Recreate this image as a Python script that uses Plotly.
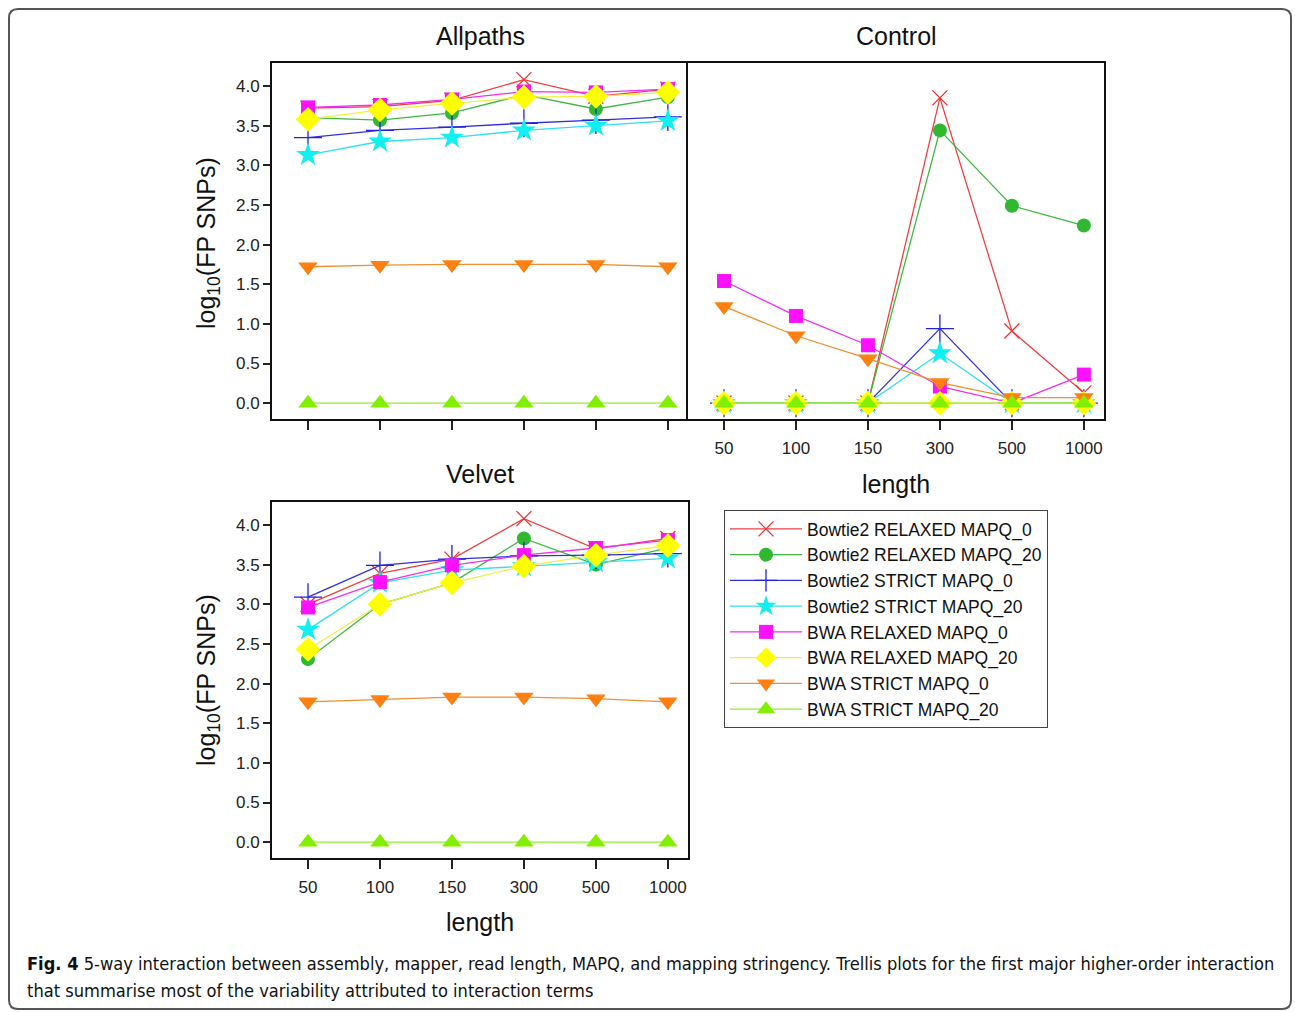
import plotly.graph_objects as go

# ---------------- data ----------------
lengths = ["50", "100", "150", "300", "500", "1000"]
series_names = [
    "Bowtie2 RELAXED MAPQ_0",
    "Bowtie2 RELAXED MAPQ_20",
    "Bowtie2 STRICT MAPQ_0",
    "Bowtie2 STRICT MAPQ_20",
    "BWA RELAXED MAPQ_0",
    "BWA RELAXED MAPQ_20",
    "BWA STRICT MAPQ_0",
    "BWA STRICT MAPQ_20",
]

allpaths_b2_relaxed_0 = [3.72, 3.74, 3.82, 4.08, 3.87, 3.96]
allpaths_b2_relaxed_20 = [3.60, 3.57, 3.66, 3.89, 3.71, 3.86]
allpaths_b2_strict_0 = [3.35, 3.44, 3.48, 3.53, 3.57, 3.61]
allpaths_b2_strict_20 = [3.13, 3.30, 3.35, 3.44, 3.50, 3.56]
allpaths_bwa_relaxed_0 = [3.73, 3.76, 3.83, 3.93, 3.92, 3.96]
allpaths_bwa_relaxed_20 = [3.58, 3.70, 3.78, 3.86, 3.87, 3.92]
allpaths_bwa_strict_0 = [1.72, 1.74, 1.75, 1.75, 1.75, 1.72]
allpaths_bwa_strict_20 = [0.0, 0.0, 0.0, 0.0, 0.0, 0.0]

control_b2_relaxed_0 = [0.0, 0.0, 0.0, 3.85, 0.91, 0.13]
control_b2_relaxed_20 = [0.0, 0.0, 0.0, 3.44, 2.49, 2.24]
control_b2_strict_0 = [0.0, 0.0, 0.0, 0.94, 0.0, 0.0]
control_b2_strict_20 = [0.0, 0.0, 0.0, 0.63, 0.0, 0.0]
control_bwa_relaxed_0 = [1.54, 1.10, 0.73, 0.21, 0.0, 0.36]
control_bwa_relaxed_20 = [0.0, 0.0, 0.0, 0.0, 0.0, 0.0]
control_bwa_strict_0 = [1.22, 0.85, 0.56, 0.26, 0.07, 0.07]
control_bwa_strict_20 = [0.0, 0.0, 0.0, 0.0, 0.0, 0.0]

velvet_b2_relaxed_0 = [3.00, 3.39, 3.57, 4.08, 3.70, 3.83]
velvet_b2_relaxed_20 = [2.31, 3.00, 3.27, 3.83, 3.50, 3.71]
velvet_b2_strict_0 = [3.09, 3.49, 3.57, 3.61, 3.62, 3.64]
velvet_b2_strict_20 = [2.68, 3.27, 3.43, 3.48, 3.53, 3.58]
velvet_bwa_relaxed_0 = [2.96, 3.28, 3.49, 3.62, 3.71, 3.81]
velvet_bwa_relaxed_20 = [2.43, 3.00, 3.27, 3.48, 3.62, 3.74]
velvet_bwa_strict_0 = [1.77, 1.80, 1.83, 1.83, 1.81, 1.77]
velvet_bwa_strict_20 = [0.0, 0.0, 0.0, 0.0, 0.0, 0.0]

y_ticks = [0.0, 0.5, 1.0, 1.5, 2.0, 2.5, 3.0, 3.5, 4.0]
y_tick_labels = ["0.0", "0.5", "1.0", "1.5", "2.0", "2.5", "3.0", "3.5", "4.0"]

panels = [
    ("Allpaths", [allpaths_b2_relaxed_0, allpaths_b2_relaxed_20, allpaths_b2_strict_0,
                  allpaths_b2_strict_20, allpaths_bwa_relaxed_0, allpaths_bwa_relaxed_20,
                  allpaths_bwa_strict_0, allpaths_bwa_strict_20]),
    ("Control", [control_b2_relaxed_0, control_b2_relaxed_20, control_b2_strict_0,
                 control_b2_strict_20, control_bwa_relaxed_0, control_bwa_relaxed_20,
                 control_bwa_strict_0, control_bwa_strict_20]),
    ("Velvet", [velvet_b2_relaxed_0, velvet_b2_relaxed_20, velvet_b2_strict_0,
                velvet_b2_strict_20, velvet_bwa_relaxed_0, velvet_bwa_relaxed_20,
                velvet_bwa_strict_0, velvet_bwa_strict_20]),
]

# ---------------- styles ----------------
colors = ["#f03030", "#30b830", "#2020e8", "#10f0f0", "#ff10ff", "#ffff00", "#ff8010", "#80f000"]
line_colors = ["#f04040", "#40b840", "#3030e0", "#30e0f0", "#f030f0", "#f0f040", "#f09030", "#90f030"]
symbols = ["x-thin", "circle", "cross-thin", "star", "square", "diamond", "triangle-down", "triangle-up"]
sizes = [15, 14, 20, 18, 14, 19, 17, 17]

W, H = 1295, 1012


def px(xp):
    return xp / W


def py(yp):
    return 1 - yp / H


FONT = "Liberation Sans, Arial, Helvetica, sans-serif"

fig = go.Figure()
axis_ids = ["", "2", "3"]
for pi, (pname, vals_list) in enumerate(panels):
    aid = axis_ids[pi]
    for si, vals in enumerate(vals_list):
        thin = symbols[si].endswith("thin")
        marker = dict(symbol=symbols[si], size=sizes[si], color=colors[si])
        if thin:
            marker["line"] = dict(color=colors[si], width=1.3)
        else:
            marker["line"] = dict(width=0)
        fig.add_trace(go.Scatter(
            x=lengths, y=vals, mode="lines+markers", name=series_names[si],
            xaxis="x" + aid, yaxis="y" + aid,
            line=dict(color=line_colors[si], width=1.3),
            marker=marker, showlegend=(pi == 0), legendgroup=series_names[si],
        ))

frame = dict(showline=True, linecolor="#111111", linewidth=2,
             showgrid=False, zeroline=False)
tickfont = dict(family=FONT, size=17, color="#222222")

xr = [-0.5, 5.28]
yr = [-0.2, 4.29]
top_dom = [py(419), py(63)]
bot_dom = [py(858), py(502)]

layout_axes = dict(
    xaxis=dict(domain=[px(272), px(688)], anchor="y", type="category", range=xr,
               ticks="outside", ticklen=9, tickwidth=2, tickcolor="#222",
               showticklabels=False, mirror=True, **frame),
    yaxis=dict(domain=top_dom, anchor="x", range=yr, tickvals=y_ticks, ticktext=y_tick_labels,
               ticks="outside", ticklen=7, tickwidth=2, tickcolor="#222", tickfont=tickfont,
               mirror=False, **frame),
    xaxis2=dict(domain=[px(688), px(1104)], anchor="y2", type="category", range=xr,
                ticks="outside", ticklen=9, tickwidth=2, tickcolor="#222", tickfont=tickfont,
                ticklabelstandoff=4, mirror=True, **frame),
    yaxis2=dict(domain=top_dom, anchor="x2", range=yr, tickvals=y_ticks,
                showticklabels=False, ticks="", mirror=True, **frame),
    xaxis3=dict(domain=[px(272), px(688)], anchor="y3", type="category", range=xr,
                ticks="outside", ticklen=9, tickwidth=2, tickcolor="#222", tickfont=tickfont,
                ticklabelstandoff=4, mirror=True, **frame),
    yaxis3=dict(domain=bot_dom, anchor="x3", range=yr, tickvals=y_ticks, ticktext=y_tick_labels,
                ticks="outside", ticklen=7, tickwidth=2, tickcolor="#222", tickfont=tickfont,
                mirror=True, **frame),
)

annotations = []


def add_text(text, x, y, size, angle=0, xanchor="center", yanchor="middle", family=FONT):
    annotations.append(dict(text=text, x=px(x), y=py(y), xref="paper", yref="paper",
                            showarrow=False, textangle=angle, xanchor=xanchor, yanchor=yanchor,
                            font=dict(family=family, size=size, color="#111111")))


add_text("Allpaths", 480, 36, 25)
add_text("Control", 896, 36, 25)
add_text("Velvet", 480, 474, 25)
add_text("length", 896, 484, 25)
add_text("length", 480, 922, 25)
add_text("log<sub>10</sub>(FP SNPs)", 208, 243, 25, angle=-90)
add_text("log<sub>10</sub>(FP SNPs)", 208, 680, 25, angle=-90)

CAP_FONT = "Liberation Sans Narrow, DejaVu Sans Condensed, Arial Narrow, sans-serif"
cap1 = ("<b>Fig. 4</b> 5-way interaction between assembly, mapper, read length, MAPQ, and mapping "
        "stringency. Trellis plots for the first major higher-order interaction")
cap2 = "that summarise most of the variability attributed to interaction terms"
add_text(cap1, 25, 963, 18.1, xanchor="left", family=CAP_FONT)
add_text(cap2, 25, 990, 18.1, xanchor="left", family=CAP_FONT)

# rounded outer border
x0, x1, y0, y1, r = 9, 1291, 9, 1009, 9


def P(x, y):
    return f"{px(x):.5f},{py(y):.5f}"


border_path = (f"M{P(x0 + r, y0)} L{P(x1 - r, y0)} Q{P(x1, y0)} {P(x1, y0 + r)} "
               f"L{P(x1, y1 - r)} Q{P(x1, y1)} {P(x1 - r, y1)} L{P(x0 + r, y1)} "
               f"Q{P(x0, y1)} {P(x0, y1 - r)} L{P(x0, y0 + r)} Q{P(x0, y0)} {P(x0 + r, y0)} Z")
shapes = [dict(type="path", path=border_path, xref="paper", yref="paper",
               line=dict(color="#555555", width=2), fillcolor="rgba(0,0,0,0)")]

fig.update_layout(
    width=W, height=H, autosize=False,
    margin=dict(l=0, r=0, t=0, b=0),
    paper_bgcolor="white", plot_bgcolor="white",
    font=dict(family=FONT, color="#111111"),
    annotations=annotations, shapes=shapes,
    legend=dict(x=px(724), y=py(510), xanchor="left", yanchor="top",
                bordercolor="#444444", borderwidth=1, bgcolor="white",
                font=dict(family=FONT, size=17.5, color="#111111"),
                itemwidth=72, tracegroupgap=0),
    **layout_axes,
)

fig.write_html("out.html", config={"displayModeBar": False},
               post_script="document.body.style.margin='0';document.documentElement.style.overflow='hidden';")
